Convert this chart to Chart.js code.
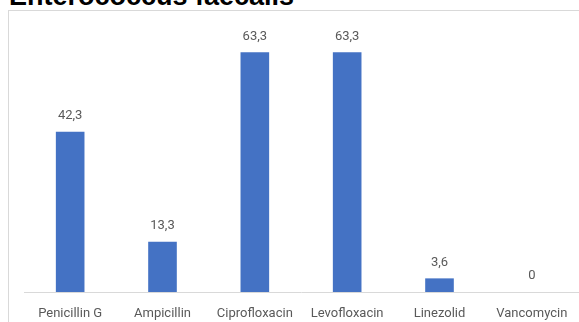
<!DOCTYPE html>
<html>
<head>
<meta charset="utf-8">
<script src="https://cdn.jsdelivr.net/npm/chart.js@4.4.0/dist/chart.umd.min.js"></script>
<style>
    body { margin: 0; width: 579px; height: 322px; overflow: hidden; position: relative; background: #fff; }
    #title {
        position: absolute; left: 9px; top: -17px;
        font: bold 27px "Liberation Sans", Arial, sans-serif;
        line-height: 27px; color: #000; white-space: nowrap;
    }
    #box {
        position: absolute; left: 8px; top: 10px;
        width: 620px; height: 340px;
        border: 1px solid #d9d9d9;
    }
    #chart { display: block; }
</style>
</head>
<body>
<div id="title">Enterococcus faecalis</div>
<div id="box"><canvas id="chart" width="600" height="330"></canvas></div>
<script>
const categories = ["Penicillin G", "Ampicillin", "Ciprofloxacin", "Levofloxacin", "Linezolid", "Vancomycin"];
const resistance = [42.3, 13.3, 63.3, 63.3, 3.6, 0];

const valueLabels = {
    id: "valueLabels",
    afterDatasetsDraw(chart) {
        const ctx = chart.ctx;
        const meta = chart.getDatasetMeta(0);
        ctx.save();
        ctx.font = "13px Roboto, sans-serif";
        ctx.fillStyle = "#595959";
        ctx.textAlign = "center";
        ctx.textBaseline = "middle";
        meta.data.forEach((bar, i) => {
            const txt = String(resistance[i]).replace(".", ",");
            ctx.fillText(txt, bar.x, bar.y - 16);
        });
        ctx.restore();
    }
};

const ctx = document.getElementById("chart").getContext("2d");

new Chart(ctx, {
    type: "bar",
    data: {
        labels: categories,
        datasets: [{
            data: resistance,
            backgroundColor: "#4472C4",
            categoryPercentage: 1,
            barPercentage: 0.31
        }]
    },
    options: {
        responsive: false,
        animation: false,
        layout: { padding: { left: 15, right: 31, top: 16, bottom: 0 } },
        plugins: {
            legend: { display: false },
            tooltip: { enabled: false }
        },
        scales: {
            x: {
                grid: { display: false },
                border: { display: true, color: "#d9d9d9", width: 1 },
                ticks: {
                    color: "#595959",
                    font: { family: "Roboto", size: 13 },
                    padding: 6,
                    maxRotation: 0
                },
                afterFit(scale) { scale.height = 49; }
            },
            y: {
                display: false,
                min: 0,
                max: 70
            }
        }
    },
    plugins: [valueLabels]
});
</script>
</body>
</html>
